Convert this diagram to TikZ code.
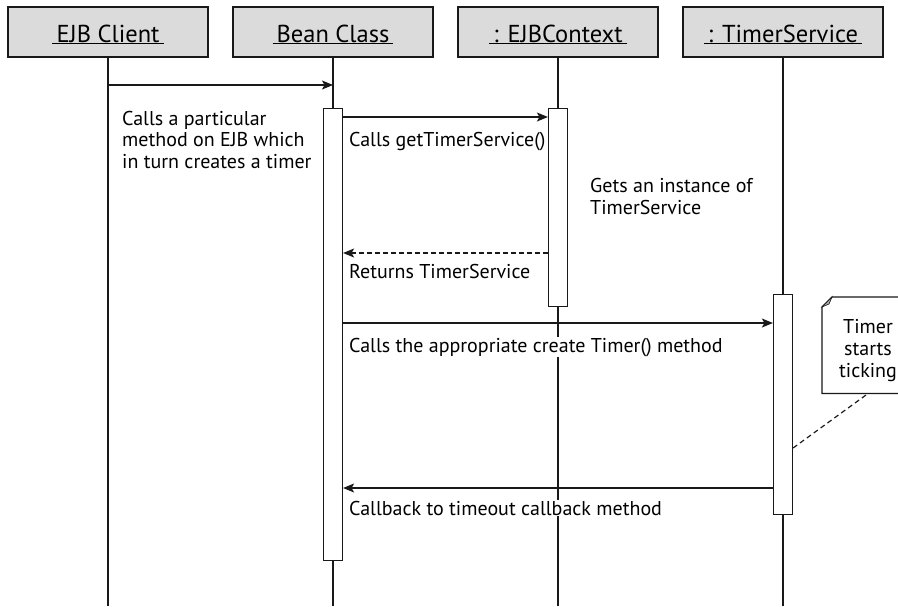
\documentclass[tikz,border=0pt]{standalone}
\usepackage{fontspec}
\setmainfont{PT Sans}
\usetikzlibrary{arrows.meta}
\begin{document}
\begin{tikzpicture}[x=1pt,y=-1pt,
  hdr/.style={draw=black!90, fill=black!14, line width=1.2pt, minimum width=200, minimum height=50, inner sep=0, text height=20pt, text depth=0pt, font=\fontsize{24.5}{28}\selectfont},
  act/.style={draw=black!90, fill=white, line width=1.2pt, minimum width=19, inner sep=0, anchor=north},
  life/.style={draw=black!90, line width=1.2pt},
  msg/.style={draw=black!90, line width=1.2pt, -{Stealth[length=11pt,width=9pt,inset=2.5pt]}},
  ret/.style={msg, dash pattern=on 5pt off 3pt},
  lbl/.style={font=\fontsize{20}{21.5}\selectfont, inner sep=0, anchor=base west, align=left},
  wlbl/.style={lbl, fill=white, inner ysep=1pt},
  notebox/.style={minimum width=92, minimum height=96, inner sep=0, anchor=north west},
]
\useasboundingbox (0,0) rectangle (898,606);
% headers
\node[hdr] (c) at (108,32) {\underline{\,EJB Client\,}};
\node[hdr] (b) at (333,32) {\underline{\,Bean Class\,}};
\node[hdr] (x) at (558,32) {\underline{\,: EJBContext\,}};
\node[hdr] (t) at (783,32) {\underline{\,: TimerService\,}};
% lifeline ends
\coordinate (cb) at (108,606);
\coordinate (bb) at (333,606);
\coordinate (xb) at (558,606);
\coordinate (tb) at (783,606);
\draw[life] (c.south) -- (cb);
\draw[life] (b.south) -- (bb);
\draw[life] (x.south) -- (xb);
\draw[life] (t.south) -- (tb);
% message levels
\coordinate (y1) at (0,85);
\coordinate (y2) at (0,117);
\coordinate (y3) at (0,253);
\coordinate (y4) at (0,323);
\coordinate (y5) at (0,488);
\coordinate (y6) at (0,448);
% labels with white backgrounds (drawn before activations)
\node[wlbl] (l4) at (349,352) {Calls the appropriate create Timer() method};
\node[wlbl] (l5) at (349,515) {Callback to timeout callback method};
% activations
\node[act, minimum height=452] (bact) at (333,108) {};
\node[act, minimum height=198] (xact) at (558,108) {};
\node[act, minimum height=220] (tact) at (783,294) {};
% messages
\draw[msg] (c.south |- y1) -- (b.south |- y1);
\draw[msg] (bact.east |- y2) -- (xact.west |- y2);
\draw[ret] (xact.west |- y3) -- (bact.east |- y3);
\draw[msg] (bact.east |- y4) -- (tact.west |- y4);
\draw[msg] (tact.west |- y5) -- (bact.east |- y5);
% labels (base = baseline of last line)
\node[lbl] (l0) at (122,168) {Calls a particular\\method on EJB which\\in turn creates a timer};
\node[lbl] (l1) at (349,146) {Calls getTimerService()};
\node[lbl] (l2) at (590,214) {Gets an instance of\\TimerService};
\node[lbl] (l3) at (349,278) {Returns TimerService};
% note
\node[notebox] (nt) at (822,297) {};
\draw[life, fill=white] (nt.south west) -- ([yshift=-10pt]nt.north west) -- ([xshift=10pt]nt.north west) -- (nt.north east) -- (nt.south east) -- cycle;
\filldraw[draw=black!90, fill=black!35, line width=0.6pt] ([xshift=10pt]nt.north west) -- ([yshift=-10pt]nt.north west) -- ([xshift=7pt,yshift=-7pt]nt.north west) -- cycle;
\node[font=\fontsize{20}{22}\selectfont, inner sep=0, anchor=base, align=center] (ntx) at (868,377) {Timer\\starts\\ticking};
\draw[life, dash pattern=on 5pt off 3.5pt] (tact.east |- y6) -- (nt.south);
\end{tikzpicture}
\end{document}
